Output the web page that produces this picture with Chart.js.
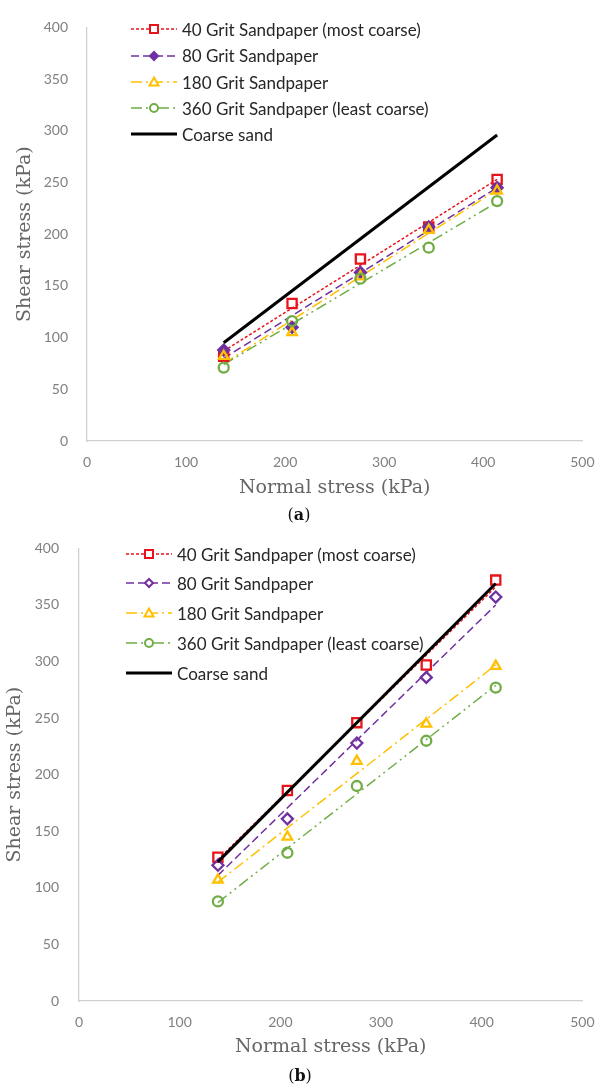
<!DOCTYPE html>
<html>
<head>
<meta charset="utf-8">
<script src="https://cdn.jsdelivr.net/npm/chart.js@4.4.1/dist/chart.umd.min.js"></script>
<style>
  html, body { margin: 0; padding: 0; background: #fff; }
  body { width: 608px; height: 1088px; position: relative; overflow: hidden; }
  canvas { position: absolute; left: 0; }
  .legend { position: absolute; font-family: Lato, sans-serif; font-size: 17px; color: #262626; }
  .legend .row { position: absolute; left: 0; height: 20px; display: flex; align-items: center; white-space: nowrap; }
  .legend svg { margin-right: 5px; }
  .caption { position: absolute; font-family: 'DejaVu Serif', serif; font-size: 16px; color: #111; transform: translate(-50%, -50%); }
</style>
</head>
<body>
<canvas id="chartA" width="608" height="510" style="top:0"></canvas>
<canvas id="chartB" width="608" height="568" style="top:520px"></canvas>
<div class="legend" id="legendA"></div>
<div class="legend" id="legendB"></div>
<div class="caption" style="left:299px;top:514px">(<b>a</b>)</div>
<div class="caption" style="left:300px;top:1075px">(<b>b</b>)</div>
<script>
(function () {
  // normal stress levels used in the shear tests
  const NORMAL_STRESS = [138, 207, 276, 345, 414];
  const TREND_X = [138, 414];
  const X_TICKS = [0, 100, 200, 300, 400, 500];
  const Y_TICKS = [0, 50, 100, 150, 200, 250, 300, 350, 400];

  // (a) measured shear stress, kPa
  const A_GRIT40  = [82, 133, 176, 207, 253];
  const A_GRIT80  = [88, 110, 163, 207, 245];
  const A_GRIT180 = [82, 105, 159, 204, 242];
  const A_GRIT360 = [71, 116, 157, 187, 232];
  // (a) linear trend lines, ends at 138 and 414 kPa
  const A_TREND40  = [87, 253];
  const A_TREND80  = [80, 245];
  const A_TREND180 = [75, 243];
  const A_TREND360 = [74, 231];
  const A_SAND     = [95, 296];

  // (b) measured shear stress, kPa
  const B_GRIT40  = [127, 186, 246, 297, 372];
  const B_GRIT80  = [120, 161, 228, 286, 357];
  const B_GRIT180 = [107, 145, 212, 245, 296];
  const B_GRIT360 = [88, 131, 190, 230, 277];
  const B_TREND40  = [125, 366];
  const B_TREND80  = [111, 350];
  const B_TREND180 = [105, 297];
  const B_TREND360 = [87, 279];
  const B_SAND     = [123, 369];

  const SERIES = [
    { name: '40 Grit Sandpaper (most coarse)',   color: '#E8141C', dash: [3, 2],             marker: 'rect',     radius: 6.5 },
    { name: '80 Grit Sandpaper',                 color: '#7030A0', dash: [8, 4],             marker: 'rectRot',  radius: 5.5 },
    { name: '180 Grit Sandpaper',                color: '#FFC000', dash: [11, 4, 2, 4],      marker: 'triangle', radius: 5.5 },
    { name: '360 Grit Sandpaper (least coarse)', color: '#70AD47', dash: [11, 4, 2, 4, 2, 4], marker: 'circle',  radius: 5 },
    { name: 'Coarse sand',                       color: '#000000', dash: [],                 marker: null,       radius: 0 },
  ];

  const TICK_COLOR = '#808080';
  const TITLE_COLOR = '#666666';
  const AXIS_COLOR = '#d0d0d0';

  function pts(xs, ys) { return xs.map((x, i) => ({ x, y: ys[i] })); }

  function datasets(points, trends, sand, filledDiamond) {
    const ds = [];
    SERIES.slice(0, 4).forEach((s, i) => {
      ds.push({
        label: s.name + ' trend', data: pts(TREND_X, trends[i]), showLine: true,
        borderColor: s.color, borderWidth: 1.5, borderDash: s.dash, pointRadius: 0, order: 20 - i,
      });
      const filled = filledDiamond && s.marker === 'rectRot';
      ds.push({
        label: s.name, data: pts(NORMAL_STRESS, points[i]), showLine: false,
        pointStyle: s.marker, pointRadius: s.radius, pointBorderWidth: 2.3,
        borderColor: s.color, backgroundColor: filled ? s.color : 'rgba(255,255,255,0)', order: 10 - i,
      });
    });
    ds.push({
      label: 'Coarse sand', data: pts(TREND_X, sand), showLine: true,
      borderColor: '#000', borderWidth: 3, pointRadius: 0, order: 0,
    });
    return ds;
  }

  function makeChart(id, g, data) {
    const H = document.getElementById(id).height;
    return new Chart(document.getElementById(id), {
      type: 'scatter',
      data: { datasets: data },
      options: {
        responsive: false, animation: false, devicePixelRatio: 1,
        layout: { padding: { top: g.top, right: g.right, left: 0, bottom: 0 } },
        plugins: { legend: { display: false }, tooltip: { enabled: false } },
        scales: {
          x: {
            type: 'linear', min: 0, max: 500,
            afterBuildTicks: s => { s.ticks = X_TICKS.map(v => ({ value: v })); },
            afterFit: s => { s.height = H - g.bottom; },
            grid: { display: false, drawTicks: false },
            border: { display: true, color: AXIS_COLOR, width: 1.3 },
            ticks: { color: TICK_COLOR, font: { family: 'Lato', size: 14 }, padding: 13.5 },
            title: { display: true, text: 'Normal stress (kPa)', color: TITLE_COLOR,
                     font: { family: 'DejaVu Serif', size: 19 }, padding: { top: 0, bottom: g.xTitlePad } },
          },
          y: {
            type: 'linear', min: 0, max: 400,
            afterBuildTicks: s => { s.ticks = Y_TICKS.map(v => ({ value: v })); },
            afterFit: s => { s.width = g.left; },
            grid: { display: false, drawTicks: false },
            border: { display: true, color: AXIS_COLOR, width: 1.3 },
            ticks: { color: TICK_COLOR, font: { family: 'Lato', size: 14 }, padding: g.yTickPad },
            title: { display: true, text: 'Shear stress (kPa)', color: TITLE_COLOR,
                     font: { family: 'DejaVu Serif', size: 19 }, padding: { top: g.yTitlePad, bottom: 0 } },
          },
        },
      },
    });
  }

  makeChart('chartA', { top: 15, right: 23, bottom: 441, left: 87, xTitlePad: 10.6, yTitlePad: 13.6, yTickPad: 19 },
    datasets([A_GRIT40, A_GRIT80, A_GRIT180, A_GRIT360],
             [A_TREND40, A_TREND80, A_TREND180, A_TREND360], A_SAND, true));

  makeChart('chartB', { top: 16, right: 14, bottom: 481, left: 79, xTitlePad: 29.6, yTitlePad: 4, yTickPad: 20 },
    datasets([B_GRIT40, B_GRIT80, B_GRIT180, B_GRIT360],
             [B_TREND40, B_TREND80, B_TREND180, B_TREND360], B_SAND, false));

  // legend: line + marker swatch, drawn as svg next to real text
  function swatch(s, filledDiamond) {
    const w = 46, cy = 7, cx = 23;
    const dash = s.dash.length ? ` stroke-dasharray="${s.dash.join(' ')}"` : '';
    const lw = s.marker ? 1.6 : 3;
    let m = '';
    const fillD = filledDiamond ? s.color : '#fff';
    const st = `stroke="${s.color}" stroke-width="2"`;
    if (s.marker === 'rect') m = `<rect x="${cx - 4}" y="${cy - 4}" width="8" height="8" fill="#fff" ${st}/>`;
    if (s.marker === 'rectRot') m = `<polygon points="${cx - 4},${cy} ${cx},${cy - 4} ${cx + 4},${cy} ${cx},${cy + 4}" fill="${fillD}" ${st}/>`;
    if (s.marker === 'triangle') m = `<polygon points="${cx},${cy - 4.5} ${cx + 4.5},${cy + 3.5} ${cx - 4.5},${cy + 3.5}" fill="#fff" ${st}/>`;
    if (s.marker === 'circle') m = `<circle cx="${cx}" cy="${cy}" r="4" fill="#fff" ${st}/>`;
    return `<svg width="${w}" height="14"><line x1="0" y1="${cy}" x2="${w}" y2="${cy}" stroke="${s.color}" stroke-width="${lw}"${dash}/>${m}</svg>`;
  }

  function legend(id, left, rows, filledDiamond) {
    const el = document.getElementById(id);
    el.style.left = left + 'px';
    el.style.top = '0px';
    SERIES.forEach((s, i) => {
      const r = document.createElement('div');
      r.className = 'row';
      r.style.top = (rows[i] - 10) + 'px';
      r.innerHTML = swatch(s, filledDiamond) + '<span>' + s.name + '</span>';
      el.appendChild(r);
    });
  }

  legend('legendA', 131, [29, 55.7, 82, 108, 134], true);
  legend('legendB', 126, [554, 583, 613, 643, 673], false);
})();
</script>
</body>
</html>
